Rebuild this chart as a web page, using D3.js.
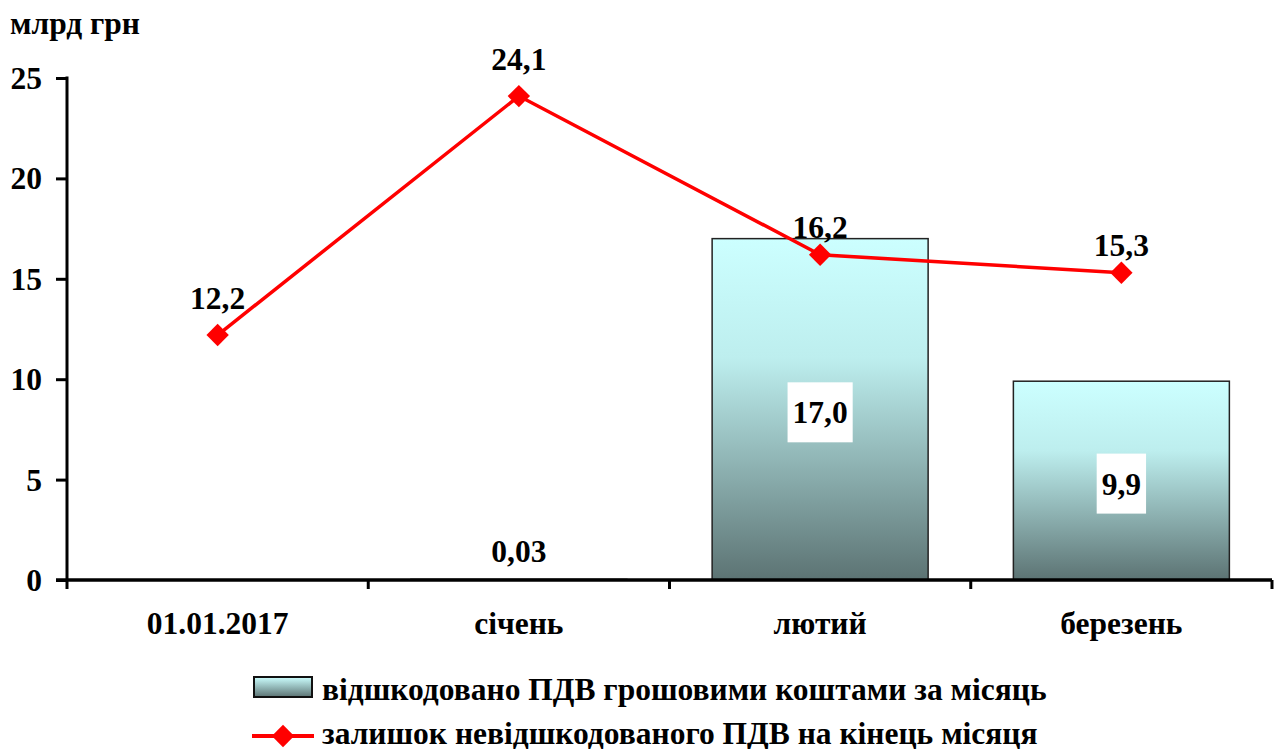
<!DOCTYPE html>
<html>
<head>
<meta charset="utf-8">
<script src="https://cdn.jsdelivr.net/npm/d3@7"></script>
<style>
body{margin:0;background:#fff;}
</style>
</head>
<body>
<svg id="chart" width="1282" height="749"></svg>
<script>
var categories = ["01.01.2017", "січень", "лютий", "березень"];
var refunded = [null, 0.03, 17.0, 9.9];
var balance = [12.2, 24.1, 16.2, 15.3];
var yTicks = [0, 5, 10, 15, 20, 25];
var unitLabel = "млрд грн";
var legendNames = ["відшкодовано ПДВ грошовими коштами за місяць", "залишок невідшкодованого ПДВ на кінець місяця"];

var FONT = "Tinos, 'Times New Roman', serif";
var FS = "31.5px";

function fmt(v){
	return (v < 0.1 ? v.toFixed(2) : v.toFixed(1)).replace(".", ",");
}

var svg = d3.select("#chart");
var mLeft = 67, mRight = 1272, mTop = 78, mBottom = 580;

var x = d3.scaleBand().domain(categories).range([mLeft, mRight]).paddingInner(0.283).paddingOuter(0.1415);
var xc = d3.scaleBand().domain(categories).range([mLeft, mRight]);
var y = d3.scaleLinear().domain([0, 25]).range([mBottom, mTop]);

function txt(sel){
	return sel.style("font-family", FONT).style("font-weight", "bold").style("font-size", FS).style("fill", "#000");
}

var defs = svg.append("defs");
var grad = defs.append("linearGradient").attr("id", "barGrad")
	.attr("x1", 0).attr("y1", 0).attr("x2", 0).attr("y2", 1);
grad.append("stop").attr("offset", "0%").attr("stop-color", "#ccffff");
grad.append("stop").attr("offset", "35%").attr("stop-color", "#bdeeee");
grad.append("stop").attr("offset", "100%").attr("stop-color", "#5c7373");
var gradL = defs.append("linearGradient").attr("id", "legGrad")
	.attr("x1", 0).attr("y1", 0).attr("x2", 0).attr("y2", 1);
gradL.append("stop").attr("offset", "0%").attr("stop-color", "#ccffff");
gradL.append("stop").attr("offset", "100%").attr("stop-color", "#5c7373");

// bars
var barData = categories.map(function(c, i){ return {c: c, v: refunded[i]}; }).filter(function(d){ return d.v != null; });
svg.selectAll(".bar").data(barData).enter().append("rect")
	.attr("class", "bar")
	.attr("x", function(d){ return x(d.c); })
	.attr("y", function(d){ return y(d.v); })
	.attr("width", x.bandwidth())
	.attr("height", function(d){ return y(0) - y(d.v); })
	.style("fill", "url(#barGrad)")
	.style("stroke", "#222")
	.style("stroke-width", 1.5);

// y axis
var yAxis = d3.axisLeft(y).tickValues(yTicks).tickSize(11).tickFormat(d3.format("d"));
var gy = svg.append("g").attr("transform", "translate(" + mLeft + ",0)").call(yAxis);
gy.select(".domain").remove();
gy.selectAll(".tick line").style("stroke", "#000").style("stroke-width", 3);
txt(gy.selectAll(".tick text").attr("x", -25).attr("dy", "0.33em"));
svg.append("line").attr("x1", mLeft).attr("x2", mLeft).attr("y1", mTop - 1.5).attr("y2", mBottom + 9)
	.style("stroke", "#000").style("stroke-width", 3);

// x axis
svg.append("line").attr("x1", mLeft - 11).attr("x2", mRight).attr("y1", mBottom).attr("y2", mBottom)
	.style("stroke", "#000").style("stroke-width", 3.5);
svg.selectAll(".xtick").data(categories).enter().append("line")
	.attr("x1", function(d){ return xc(d) + xc.bandwidth(); })
	.attr("x2", function(d){ return xc(d) + xc.bandwidth(); })
	.attr("y1", mBottom).attr("y2", mBottom + 9)
	.style("stroke", "#000").style("stroke-width", 3);
txt(svg.selectAll(".xlab").data(categories).enter().append("text")
	.attr("x", function(d){ return xc(d) + xc.bandwidth() / 2; })
	.attr("y", 634)
	.attr("text-anchor", "middle")
	.text(function(d){ return d; }));

txt(svg.append("text").attr("x", 10).attr("y", 34).text(unitLabel));

// bar labels
barData.forEach(function(d){
	var cx = xc(d.c) + xc.bandwidth() / 2;
	if(d.v < 1){
		txt(svg.append("text").attr("x", cx).attr("y", mBottom - 18).attr("text-anchor", "middle").text(fmt(d.v)));
		return;
	}
	var cy = (y(d.v) + y(0)) / 2 + 3;
	var t = txt(svg.append("text").attr("x", cx).attr("y", cy).attr("dy", "0.35em").attr("text-anchor", "middle").text(fmt(d.v)));
	var bb = t.node().getBBox();
	svg.insert("rect", function(){ return t.node(); })
		.attr("x", bb.x - 5).attr("y", cy - 30).attr("width", bb.width + 10).attr("height", 60)
		.style("fill", "#fff");
});

// line
var cxOf = function(i){ return xc(categories[i]) + xc.bandwidth() / 2; };
var line = d3.line()
	.x(function(d, i){ return cxOf(i); })
	.y(function(d){ return y(d); });
svg.append("path").datum(balance).attr("d", line)
	.style("fill", "none").style("stroke", "#ff0000").style("stroke-width", 3.5);
svg.selectAll(".pt").data(balance).enter().append("path")
	.attr("transform", function(d, i){ return "translate(" + cxOf(i) + "," + y(d) + ") rotate(45)"; })
	.attr("d", d3.symbol().type(d3.symbolSquare).size(250))
	.style("fill", "#ff0000");
txt(svg.selectAll(".plab").data(balance).enter().append("text")
	.attr("x", function(d, i){ return cxOf(i); })
	.attr("y", function(d){ return y(d) - 26 + (d > 15 && d < 17 ? 9 : 0); })
	.attr("text-anchor", "middle")
	.text(function(d){ return fmt(d); }));

// legend
var lg = svg.append("g");
lg.append("rect").attr("x", 254).attr("y", 677).attr("width", 58).attr("height", 20)
	.style("fill", "url(#legGrad)").style("stroke", "#111").style("stroke-width", 2);
txt(lg.append("text").attr("x", 322).attr("y", 700).text(legendNames[0]));
lg.append("line").attr("x1", 252).attr("x2", 314).attr("y1", 736).attr("y2", 736)
	.style("stroke", "#ff0000").style("stroke-width", 4);
lg.append("path").attr("transform", "translate(283,736) rotate(45)")
	.attr("d", d3.symbol().type(d3.symbolSquare).size(250)).style("fill", "#ff0000");
txt(lg.append("text").attr("x", 322).attr("y", 744).text(legendNames[1]));
</script>
</body>
</html>
